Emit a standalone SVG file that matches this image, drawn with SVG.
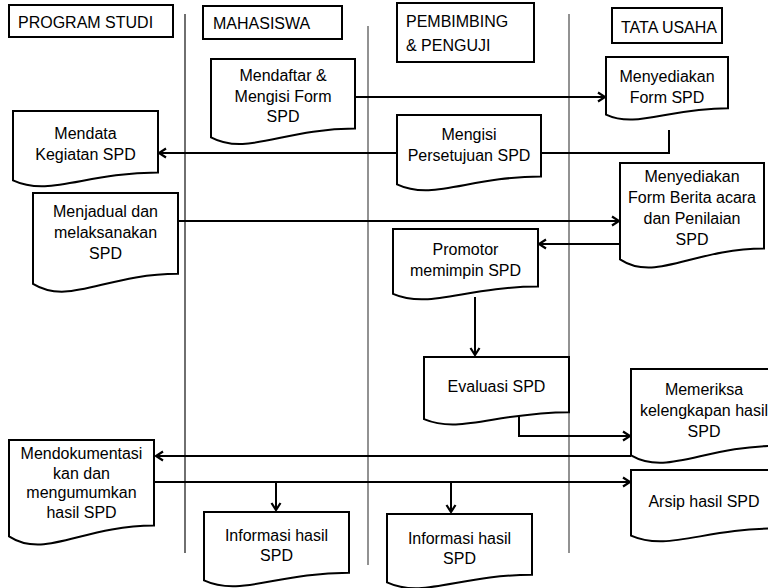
<svg xmlns="http://www.w3.org/2000/svg" width="768" height="588" viewBox="0 0 768 588">
<defs>
<style>
.hdr{fill:#fff;stroke:#000;stroke-width:2}
.doc{fill:#fff;stroke:#000;stroke-width:2;stroke-linejoin:miter}
.t{font-family:"Liberation Sans",Arial,sans-serif;font-size:16px;fill:#000}
.c{text-anchor:middle}
.lane1{stroke:#222;stroke-width:1.3}
.lane{stroke:#777;stroke-width:1.6}
.con{fill:none;stroke:#000;stroke-width:2}
.arr{marker-end:url(#arr)}
</style>
<marker id="arr" markerUnits="userSpaceOnUse" markerWidth="12" markerHeight="12" viewBox="0 0 12 12" refX="10" refY="6" orient="auto">
<path d="M3,1.5 L10,6 L3,10.5" fill="none" stroke="#000" stroke-width="2.2"/>
</marker>
</defs>
<rect width="768" height="588" fill="#fff"/>

<g id="lanes">
<line class="lane1" x1="185" y1="14" x2="185" y2="553"/>
<line class="lane" x1="368" y1="26" x2="368" y2="565"/>
<line class="lane" x1="569" y1="14" x2="569" y2="553"/>
</g>

<g id="hdr-prodi"><rect class="hdr" x="9" y="5" width="164" height="32"/><text class="t" x="18" y="28">PROGRAM STUDI</text></g>
<g id="hdr-mhs"><rect class="hdr" x="203" y="6" width="139" height="33"/><text class="t" x="213" y="29">MAHASISWA</text></g>
<g id="hdr-pemb"><rect class="hdr" x="397" y="3" width="137" height="59"/><text class="t" x="406" y="27">PEMBIMBING</text><text class="t" x="406" y="51">&amp; PENGUJI</text></g>
<g id="hdr-tu"><rect class="hdr" x="612" y="8" width="110" height="35"/><text class="t" x="621" y="33">TATA USAHA</text></g>

<g id="connectors">
<path class="con arr" d="M355,97 H605"/>
<path class="con arr" d="M669,130 V153 H159"/>
<path class="con arr" d="M178,221 H619"/>
<path class="con arr" d="M620,244 H539"/>
<path class="con arr" d="M475,297 V355"/>
<path class="con arr" d="M519,415 V436 H630"/>
<path class="con arr" d="M631,456 H156"/>
<path class="con arr" d="M154,482 H630"/>
<path class="con arr" d="M276,482 V510"/>
<path class="con arr" d="M451,482 V512"/>
</g>

<g id="n-mendaftar"><path class="doc" d="M211,59 H355 V128.6 C283,128.6 247,156.4 211,137.3 Z"/>
<text class="t c" x="283" y="81">Mendaftar &amp;</text><text class="t c" x="283" y="102">Mengisi Form</text><text class="t c" x="283" y="122">SPD</text></g>

<g id="n-menyediakan"><path class="doc" d="M606,57 H728 V108.2 C667,108.2 636.5,128.7 606,114.6 Z"/>
<text class="t c" x="667" y="82">Menyediakan</text><text class="t c" x="667" y="103">Form SPD</text></g>

<g id="n-mendata"><path class="doc" d="M13,111 H158 V172.6 C85.5,172.6 49.3,197.2 13,180.3 Z"/>
<text class="t c" x="85.5" y="139">Mendata</text><text class="t c" x="85.5" y="160">Kegiatan SPD</text></g>

<g id="n-mengisi"><path class="doc" d="M397,115 H541 V176.6 C469,176.6 433,201.2 397,184.3 Z"/>
<text class="t c" x="469" y="140">Mengisi</text><text class="t c" x="469" y="161">Persetujuan SPD</text></g>

<g id="n-berita"><path class="doc" d="M620,163 H764 V248.6 C692,248.6 656,282.8 620,259.3 Z"/>
<text class="t c" x="692" y="182">Menyediakan</text><text class="t c" x="692" y="203">Form Berita acara</text><text class="t c" x="692" y="224">dan Penilaian</text><text class="t c" x="692" y="245">SPD</text></g>

<g id="n-menjadual"><path class="doc" d="M33,193 H178 V273.8 C105.5,273.8 69.3,306.1 33,283.9 Z"/>
<text class="t c" x="105.5" y="217">Menjadual dan</text><text class="t c" x="105.5" y="238">melaksanakan</text><text class="t c" x="105.5" y="259">SPD</text></g>

<g id="n-promotor"><path class="doc" d="M393,229 H538 V286.6 C465.5,286.6 429.3,309.6 393,293.8 Z"/>
<text class="t c" x="465.5" y="255">Promotor</text><text class="t c" x="465.5" y="276">memimpin SPD</text></g>

<g id="n-evaluasi"><path class="doc" d="M424,357 H569 V412.2 C496.5,412.2 460.3,434.3 424,419.1 Z"/>
<text class="t c" x="496.5" y="392">Evaluasi SPD</text></g>

<g id="n-memeriksa"><path class="doc" d="M631,369 H777 V445.8 C704,445.8 667.5,476.5 631,455.4 Z"/>
<text class="t c" x="704" y="395">Memeriksa</text><text class="t c" x="704" y="416">kelengkapan hasil</text><text class="t c" x="704" y="437">SPD</text></g>

<g id="n-arsip"><path class="doc" d="M631,470 H777 V528.4 C704,528.4 667.5,551.8 631,535.7 Z"/>
<text class="t c" x="704" y="507">Arsip hasil SPD</text></g>

<g id="n-mendokumentasi"><path class="doc" d="M9,440 H154 V525.6 C81.5,525.6 45.3,559.8 9,536.3 Z"/>
<text class="t c" x="81.5" y="459">Mendokumentasi</text><text class="t c" x="81.5" y="479">kan dan</text><text class="t c" x="81.5" y="498">mengumumkan</text><text class="t c" x="81.5" y="518">hasil SPD</text></g>

<g id="n-info-mhs"><path class="doc" d="M204,512 H349 V572.8 C276.5,572.8 240.3,597.1 204,580.4 Z"/>
<text class="t c" x="276.5" y="541">Informasi hasil</text><text class="t c" x="276.5" y="561">SPD</text></g>

<g id="n-info-pemb"><path class="doc" d="M387,514 H532 V574.8 C459.5,574.8 423.3,599.1 387,582.4 Z"/>
<text class="t c" x="459.5" y="544">Informasi hasil</text><text class="t c" x="459.5" y="564">SPD</text></g>
</svg>
